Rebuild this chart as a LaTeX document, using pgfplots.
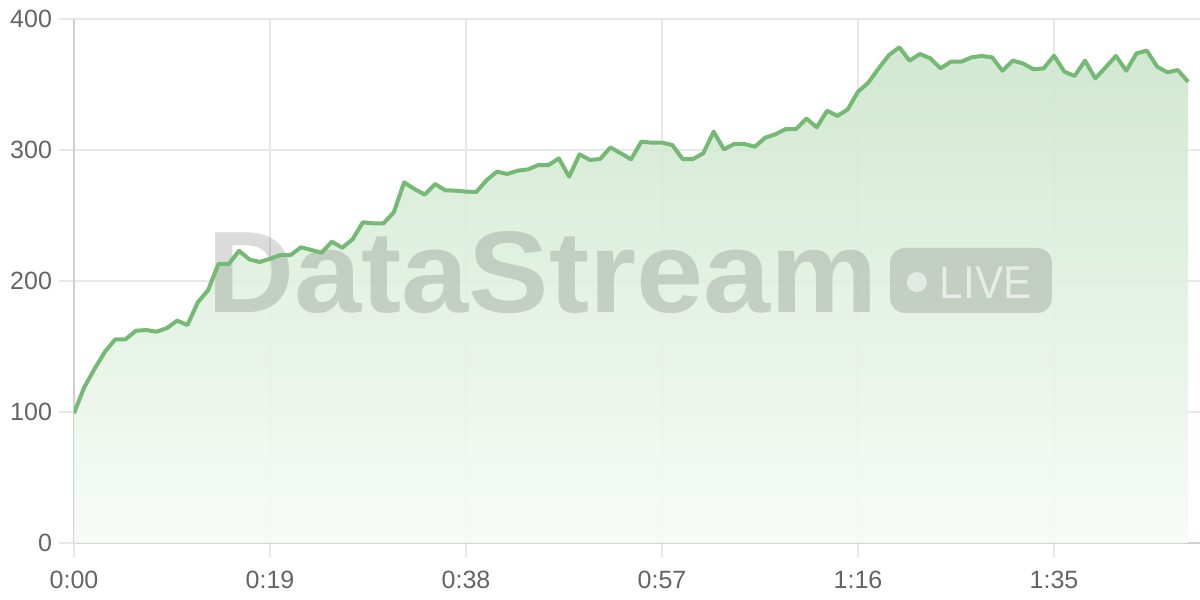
\documentclass[border=0pt]{standalone}
\usepackage{fontspec}
\setmainfont{Liberation Sans}
\usepackage{pgfplots}
\pgfplotsset{compat=1.18}
\usepackage{pgfplotstable}

\definecolor{linegreen}{RGB}{116,185,116}
\definecolor{filltop}{RGB}{204,230,204}
\definecolor{fillbot}{RGB}{247,251,247}
\definecolor{gridgray}{RGB}{232,232,232}
\definecolor{axisgray}{RGB}{208,208,208}
\definecolor{labelgray}{RGB}{100,100,100}

% seconds, value
\pgfplotstableread{
t v
0 99
1 119
2 133
3 146
4 155.5
5 155.5
6 162
7 162.6
8 161.3
9 164
10 169.7
11 166.4
12 183.7
13 193
14 213
15 213
16 223
17 216.5
18 214.5
19 217
20 219.8
21 219.8
22 225.7
23 223.7
24 221.6
25 230
26 225.4
27 231.8
28 244.8
29 244
30 244
31 252.4
32 275.3
33 270.2
34 266
35 274
36 269.2
37 269
38 268.2
39 268
40 277
41 283.5
42 281.7
43 284.2
44 285.2
45 288.5
46 288.5
47 293.6
48 279.6
49 296.7
50 292.4
51 293.1
52 302
53 297.5
54 292.9
55 306.4
56 305.6
57 305.6
58 303.8
59 293.1
60 293.1
61 297.5
62 314
63 300.5
64 304.6
65 304.6
66 302.5
67 309.4
68 312
69 316
70 316
71 324
72 317.3
73 330
74 326
75 331
76 344.5
77 351.4
78 362.3
79 372.5
80 378.4
81 368.2
82 373.3
83 370
84 362.3
85 367.4
86 367.4
87 370.7
88 371.8
89 370.7
90 360.5
91 368.2
92 366
93 361.6
94 362.3
95 372
96 359.8
97 356.5
98 368.2
99 354.7
100 363.1
101 371.8
102 360.5
103 373.8
104 375.8
105 363.6
106 359.3
107 361
108 352
}\stream

\begin{document}
\begin{tikzpicture}
\useasboundingbox (-37pt,-28.5pt) rectangle (563pt,271.5pt);
\begin{axis}[
    at={(0,0)}, anchor=south west,
    scale only axis,
    width=563pt, height=262pt,
    xmin=0, xmax=109.15,
    ymin=0, ymax=400,
    axis x line*=bottom,
    axis y line*=left,
    axis line style={axisgray, line width=0.75pt},
    xtick={0,19,38,57,76,95},
    xticklabels={0:00,0:19,0:38,0:57,1:16,1:35},
    ytick={0,100,200,300,400},
    yticklabels={0,100,200,300,400},
    grid=major,
    major grid style={gridgray, line width=0.75pt},
    tick align=outside,
    major tick length=7.5pt,
    tick style={gridgray, line width=0.75pt},
    tick label style={font=\fontsize{12.5}{14}\selectfont, text=labelgray},
    xticklabel style={yshift=-3pt},
]
\addplot[draw=none, top color=filltop, bottom color=fillbot, fill opacity=0.9]
    table[x=t, y=v] {\stream} \closedcycle;

% watermark
\node[anchor=base west, inner sep=0pt, text=black, text opacity=0.14, xscale=1.04,
      font=\bfseries\fontsize{58}{60}\selectfont] at (axis cs:12.9,176) {DataStream};
\fill[black, opacity=0.14, rounded corners=7.5pt]
    (axis cs:79.1,175.6) rectangle (axis cs:94.8,225.2);
\fill[white, opacity=0.55] (axis cs:81.7,199.2) circle[radius=5pt];
\node[anchor=base west, inner sep=0pt, text=white, text opacity=0.6, xscale=0.92,
      font=\fontsize{23}{25}\selectfont] at (axis cs:83.9,187) {LIVE};

\addplot[linegreen, line width=2pt, line join=round]
    table[x=t, y=v] {\stream};
\end{axis}
\end{tikzpicture}
\end{document}
